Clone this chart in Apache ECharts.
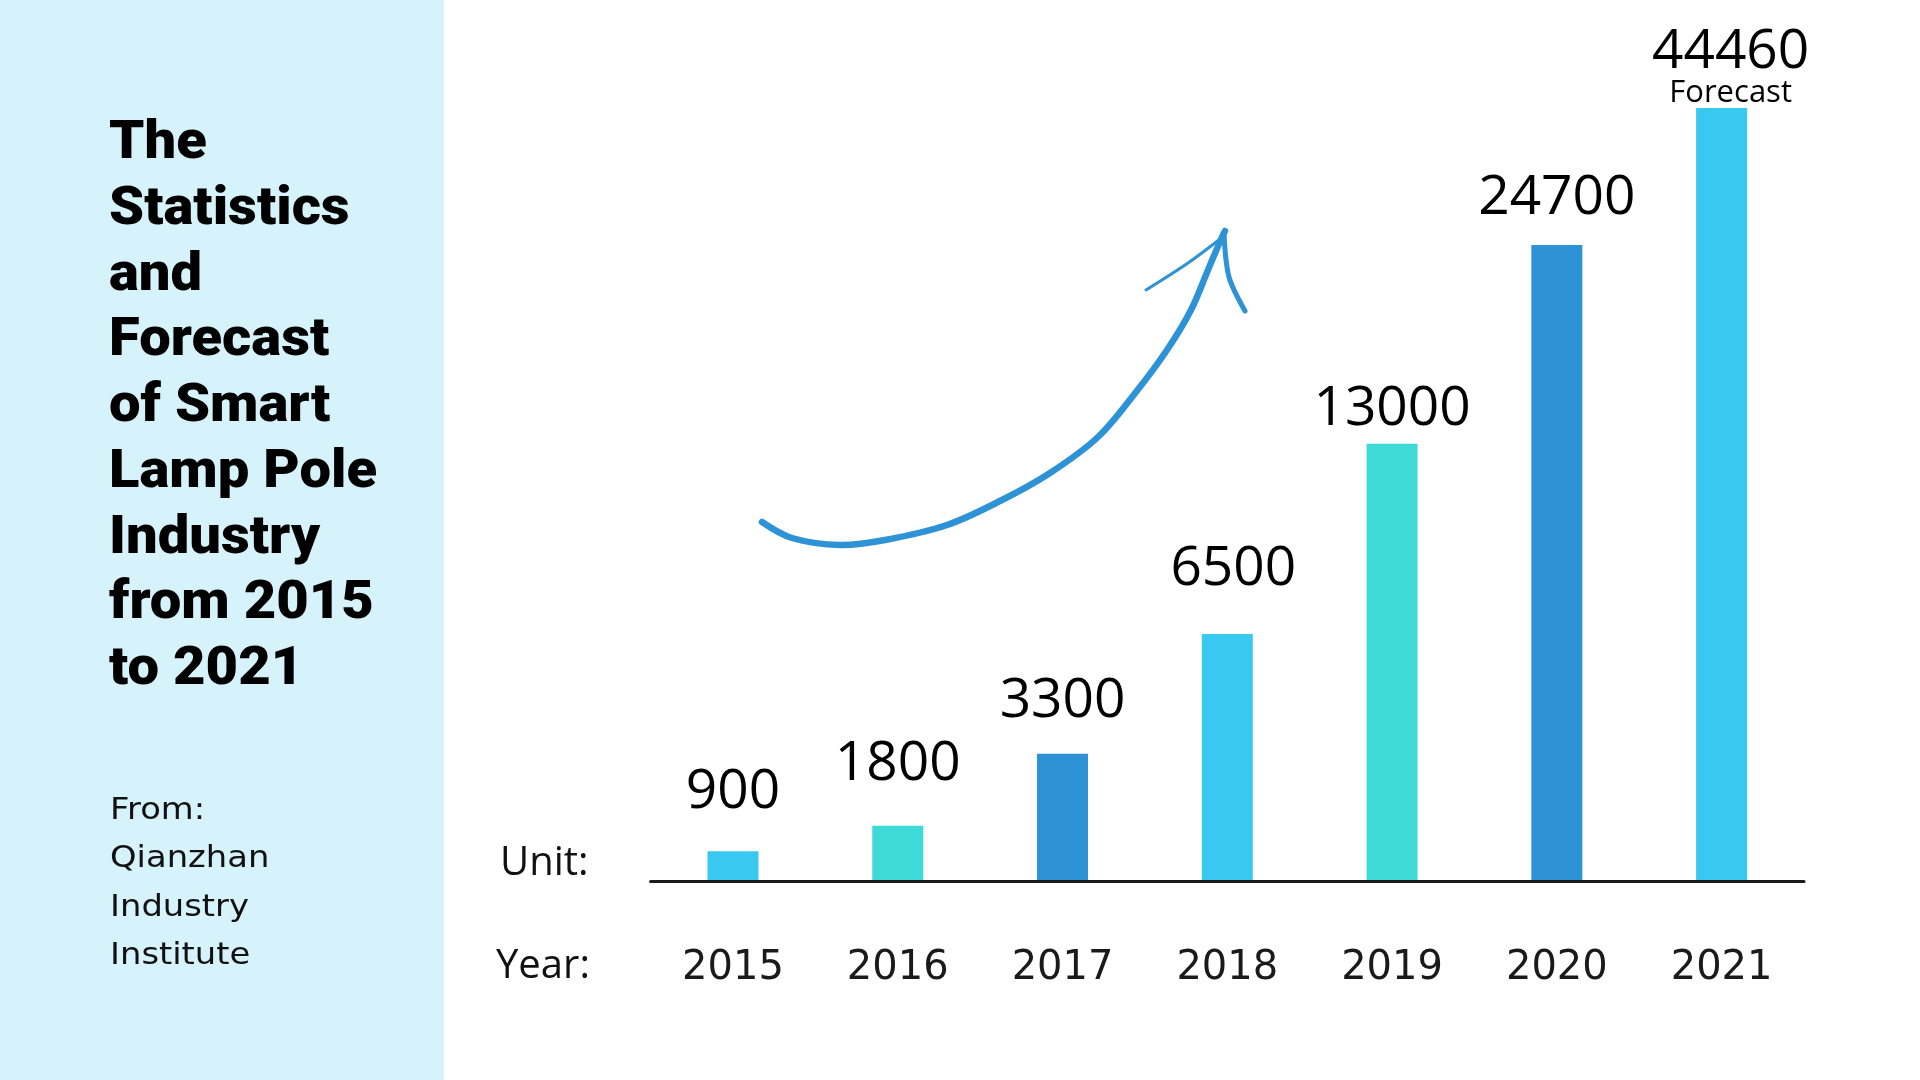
<!DOCTYPE html>
<html>
<head>
<meta charset="utf-8">
<style>
  html, body { margin: 0; padding: 0; background: #ffffff; }
  #chart { width: 1920px; height: 1080px; }
</style>
<script src="https://cdn.jsdelivr.net/npm/echarts@6/dist/echarts.min.js"></script>
</head>
<body>
<div id="chart"></div>
<script>
// ---- data ----
const years = ['2015', '2016', '2017', '2018', '2019', '2020', '2021'];
// printed values (unit not stated in the source)
const values = [900, 1800, 3300, 6500, 13000, 24700, 44460];
// drawn bar heights in the reference (not to scale), % of the tallest bar
const barHeights = [3.9, 7.2, 16.5, 32.0, 56.6, 82.3, 100];
const forecastNote = 'Forecast';
const titleText = 'The\nStatistics\nand\nForecast\nof Smart\nLamp Pole\nIndustry\nfrom 2015\nto 2021';
const sourceText = 'From:\nQianzhan\nIndustry\nInstitute';

// ---- styling ----
const palette = ['#38C8F0', '#3EDAD8', '#2E92D6'];
const labelGaps = [31.5, 34, 25, 37, 7, 19.5, -1];
const labelShifts = [0, 0, 0, 6, 0, 0, 9];

const chart = echarts.init(document.getElementById('chart'));

const seriesData = barHeights.map((h, i) => {
  const item = {
    value: h,
    itemStyle: { color: palette[i % 3] },
    label: { distance: labelGaps[i], offset: [labelShifts[i], 0] }
  };
  if (i === years.length - 1) {
    item.label = {
      distance: labelGaps[i],
      offset: [labelShifts[i], 0],
      formatter: '{v|' + values[i] + '}\n{f|' + forecastNote + '}',
      rich: {
        v: { fontFamily: 'Open Sans', fontSize: 55, lineHeight: 51, color: '#000', align: 'center' },
        f: { fontFamily: 'Open Sans', fontSize: 31, lineHeight: 31, color: '#000', align: 'center' }
      }
    };
  }
  return item;
});

const option = {
  backgroundColor: '#ffffff',
  animation: false,
  graphic: [
    { type: 'rect', left: 0, top: 0, z: -10, silent: true, shape: { width: 444, height: 1080 }, style: { fill: '#D6F3FB' } },
    { type: 'text', x: 109, y: 112, scaleX: 1.06, silent: true,
      style: { text: titleText, fontFamily: 'Roboto', fontWeight: 900, fontSize: 53, lineHeight: 65.75, fill: '#000', verticalAlign: 'top', align: 'left' } },
    { type: 'text', x: 110, y: 787, scaleX: 1.09, silent: true,
      style: { text: sourceText, fontFamily: 'DejaVu Sans', fontSize: 31, lineHeight: 48.3, fill: '#111', verticalAlign: 'top', align: 'left' } },
    { type: 'text', x: 500, y: 864, silent: true, style: { text: 'Unit:', fontFamily: 'Open Sans', fontSize: 40, fill: '#111', verticalAlign: 'middle' } },
    { type: 'text', x: 496, y: 967, silent: true, style: { text: 'Year:', fontFamily: 'Open Sans', fontSize: 40, fill: '#111', verticalAlign: 'middle' } },
    { type: 'polyline', silent: true,
      shape: { smooth: 0.35, points: [[762,522],[792,538],[840,545],[885,540],[947,525],[1002,500],[1050,473],[1098,437],[1136,392],[1167,350],[1191,310],[1208,270],[1222,237],[1225,231]] },
      style: { stroke: '#2E92D6', lineWidth: 6.5, fill: null, lineCap: 'round', lineJoin: 'round' } },
    { type: 'polyline', silent: true,
      shape: { smooth: 0.3, points: [[1224,236],[1188,263],[1146,290]] },
      style: { stroke: '#2E92D6', lineWidth: 3, fill: null, lineCap: 'round' } },
    { type: 'polyline', silent: true,
      shape: { smooth: 0.3, points: [[1224,234],[1229,277],[1245,311]] },
      style: { stroke: '#2E92D6', lineWidth: 5, fill: null, lineCap: 'round' } }
  ],
  grid: { left: 650.6, right: 116, top: 108, bottom: 198.5, containLabel: false },
  xAxis: {
    type: 'category',
    data: years,
    z: 3,
    axisLine: { show: true, lineStyle: { color: '#1a1a1a', width: 3 } },
    axisTick: { show: false },
    axisLabel: { margin: 67, fontFamily: 'DejaVu Sans', fontSize: 40, lineHeight: 40, color: '#1a1a1a' },
    splitLine: { show: false }
  },
  yAxis: { type: 'value', min: 0, max: 100, show: false, splitLine: { show: false } },
  series: [{
    type: 'bar',
    barWidth: 51,
    data: seriesData,
    label: {
      show: true,
      position: 'top',
      fontFamily: 'Open Sans',
      fontSize: 55,
      lineHeight: 55,
      color: '#000',
      formatter: p => String(values[p.dataIndex])
    }
  }]
};

chart.setOption(option);
</script>
</body>
</html>
